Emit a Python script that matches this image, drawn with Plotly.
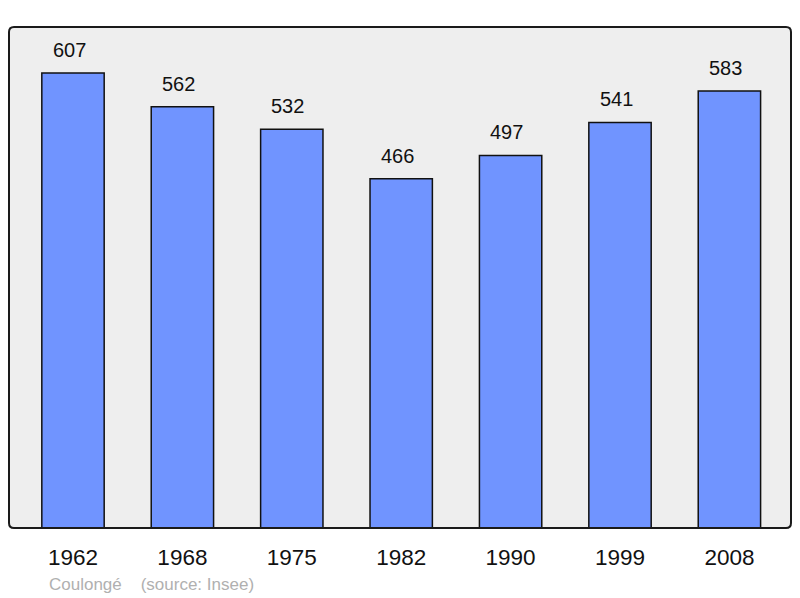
import plotly.graph_objects as go

years = ["1962", "1968", "1975", "1982", "1990", "1999", "2008"]
population = [607, 562, 532, 466, 497, 541, 583]
source_text = "Coulongé    (source: Insee)"

xs = list(range(len(years)))
FONT = "Liberation Sans, Arial, sans-serif"

fig = go.Figure()
fig.add_trace(go.Bar(
    x=xs, y=population, width=0.57,
    marker=dict(color="#7094ff", line=dict(color="#111111", width=1.5)),
    hoverinfo="skip",
))

for x, v in zip(xs, population):
    fig.add_annotation(x=x, y=v, text=str(v), showarrow=False, yanchor="bottom",
                       yshift=10, xshift=-4,
                       font=dict(size=20, color="#111111", family=FONT))

fig.add_annotation(xref="paper", yref="paper", x=0.048, y=-0.112, xanchor="left",
                   yanchor="middle",
                   text=source_text.replace("    ", "&nbsp;&nbsp;&nbsp;&nbsp;"),
                   showarrow=False,
                   font=dict(size=17, color="#b0b0b0", family=FONT))

# rounded frame around the plot area
W, H = 782.0, 501.0
rx, ry = 5 / W, 5 / H
path = (f"M {rx},0 L {1-rx},0 Q 1,0 1,{ry} L 1,{1-ry} Q 1,1 {1-rx},1 "
        f"L {rx},1 Q 0,1 0,{1-ry} L 0,{ry} Q 0,0 {rx},0 Z")
fig.add_shape(type="path", xref="paper", yref="paper", path=path,
              line=dict(color="#1a1a1a", width=2), layer="above")

fig.update_layout(
    width=800, height=598,
    margin=dict(l=1, r=17, t=19, b=78),
    paper_bgcolor="white", plot_bgcolor="#eeeeee",
    showlegend=False,
    xaxis=dict(range=[-0.585, 6.563], tickvals=xs, ticktext=years, showgrid=False,
               zeroline=False, ticks="", ticklabelstandoff=13,
               tickfont=dict(size=22.5, color="#111111", family=FONT)),
    yaxis=dict(range=[0, 668.4], showgrid=False, zeroline=False, showticklabels=False),
)

fig.write_html("out.html")
